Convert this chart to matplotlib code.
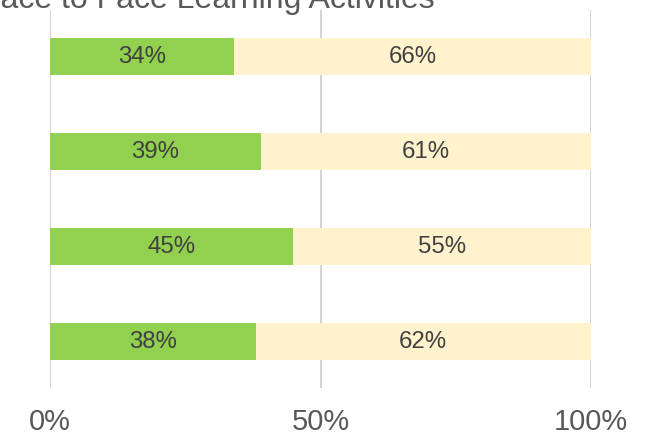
import matplotlib
matplotlib.use('Agg')
import matplotlib.pyplot as plt
import numpy as np

plt.rcParams['font.family'] = ['Liberation Sans', 'DejaVu Sans']

categories = ['Item 1', 'Item 2', 'Item 3', 'Item 4']
agree = [34, 39, 45, 38]
other = [66, 61, 55, 62]
ticks = [0, 50, 100]
tick_labels = ['0%', '50%', '100%']

W, H = 651, 436
fig = plt.figure(figsize=(W / 72, H / 72), dpi=72)
ax = fig.add_axes([50 / W, (H - 388) / H, 541 / W, 378 / H])

y = np.arange(len(categories))
ax.barh(y, agree, height=0.39, color='#92D050', zorder=2)
ax.barh(y, other, left=agree, height=0.39, color='#FFF2CC', zorder=2)

for i in range(len(categories)):
    ax.text(agree[i] / 2, y[i] + 0.01, f'{agree[i]}%', ha='center', va='center',
            fontsize=24, color='#404040', zorder=3)
    ax.text(agree[i] + other[i] / 2, y[i] + 0.01, f'{other[i]}%', ha='center', va='center',
            fontsize=24, color='#404040', zorder=3)

ax.set_xlim(0, 100)
ax.set_ylim(3.49, -0.49)
ax.set_xticks(ticks)
ax.set_xticklabels(tick_labels)
ax.set_yticks([])
ax.tick_params(axis='x', length=0, pad=20, labelsize=29, labelcolor='#595959')
ax.grid(axis='x', color='#D0D0D0', linewidth=1.8, zorder=0)
for s in ax.spines.values():
    s.set_visible(False)

# title is cropped at the top edge, as in the reference
fig.text(435 / W, 1 - 8 / H, 'Face to Face Learning Activities', ha='right',
         va='baseline', fontsize=32, color='#595959')

fig.savefig('out.png', dpi=72)
